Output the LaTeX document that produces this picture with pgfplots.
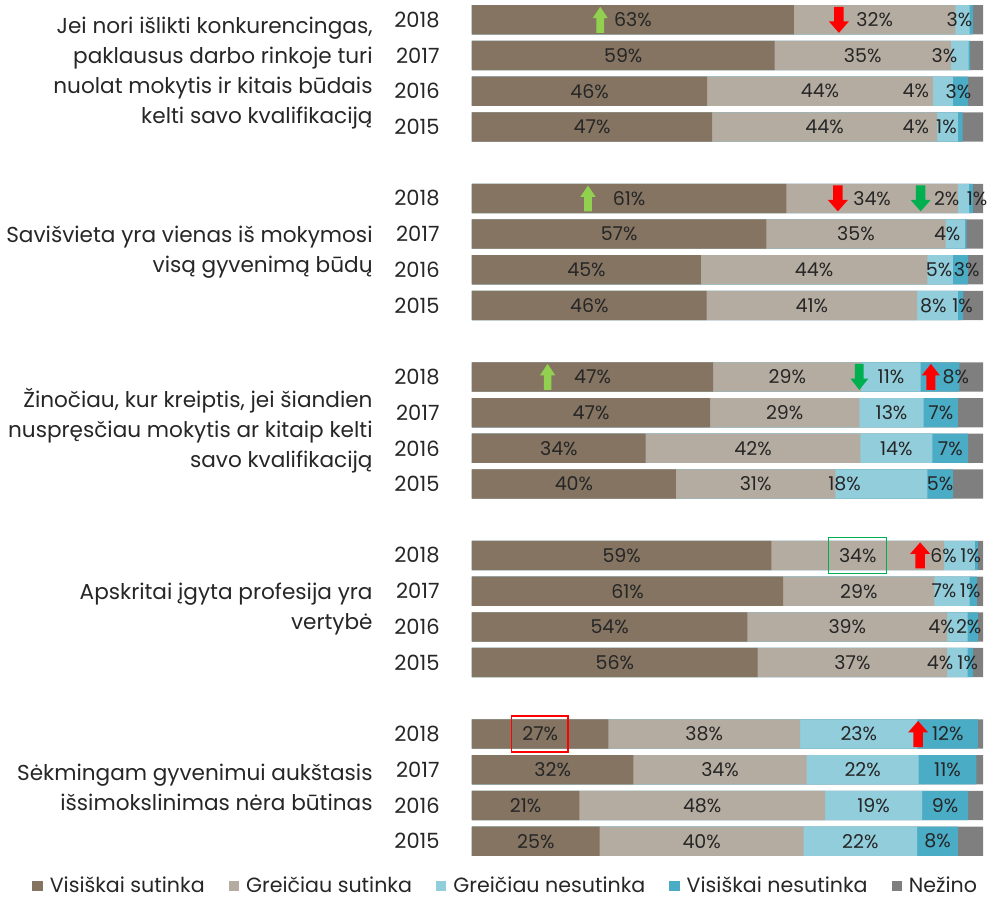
\documentclass[border=0pt]{standalone}
\usepackage{fontspec}
\setmainfont{Poppins}
\usepackage{pgfplots}
\usepackage{pgfplotstable}
\pgfplotsset{compat=1.18}

\definecolor{cA}{RGB}{132,116,97}
\definecolor{cB}{RGB}{181,172,161}
\definecolor{cC}{RGB}{146,205,220}
\definecolor{cD}{RGB}{75,172,198}
\definecolor{cE}{RGB}{127,127,127}
\definecolor{txt}{RGB}{38,38,38}
\definecolor{lgreen}{RGB}{146,208,80}
\definecolor{dgreen}{RGB}{0,176,80}
\definecolor{ared}{RGB}{255,0,0}

% a..e: shares; la..ld: printed labels (0 = none); oc, od: label nudges
\pgfplotstableread{
y a b c d e la lb lc ld oc od
0 63.0 31.6 2.8 0.6 2.0 63 32 3 0 -0.6 0
1 59.2 34.5 3.5 0.3 2.5 59 35 3 0 -3.0 0
2 46.0 44.2 3.9 3.0 2.9 46 44 4 3 -5.3 -0.4
3 47.0 44.0 4.1 0.9 4.0 47 44 4 1 -6.2 -2.7
5 61.5 33.6 2.2 0.7 2.0 61 34 2 1 -3.3 1.2
6 57.6 35.1 3.8 0.3 3.2 57 35 4 0 -1.6 0
7 44.8 44.3 5.0 3.0 2.9 45 44 5 3 -0.2 1.2
8 45.9 41.2 8.0 1.0 3.9 46 41 8 1 -0.8 0.4
10 47.2 29.0 11.6 7.6 4.6 47 29 11 8 0 3.1
11 46.6 29.2 12.6 6.7 4.9 47 29 13 7 0 0
12 34.0 42.0 14.1 7.0 2.9 34 42 14 7 0 0
13 39.9 31.2 18.0 5.0 5.9 40 31 18 5 -7.2 0
15 58.6 33.8 6.0 0.6 1.0 59 34 6 1 -3.1 -1.1
16 60.9 29.6 6.9 1.4 1.2 61 29 7 1 -1.6 -0.6
17 53.9 39.1 4.0 2.0 1.0 54 39 4 2 -3.1 -0.8
18 55.9 37.1 4.0 1.0 2.0 56 37 4 1 -3.4 -0.5
20 26.7 37.5 23.0 11.8 1.0 27 38 23 12 0 0
21 31.6 33.9 21.9 11.3 1.3 32 34 22 11 0 0
22 21.0 48.1 19.0 9.0 2.9 21 48 19 9 0 0
23 25.0 39.9 22.2 8.0 4.9 25 40 22 8 0 0
}\data

\pgfplotsset{
  seg/.style={xbar, bar shift=0pt, draw=none, fill=#1, forget plot},
  lab/.style={
    draw=none, mark=none, forget plot,
    nodes near coords={\ifnum\pgfplotspointmeta=0 \else\pgfplotspointmeta\%\fi},
    point meta=explicit symbolic,
    every node near coord/.append style={anchor=center, inner sep=0pt,
      font=\fontsize{9.5}{10}\selectfont, text=txt},
  },
}
\tikzset{
  grp/.style={anchor=east, align=right, xshift=-49.5pt, inner sep=0pt, text=txt,
    font=\fontsize{10.8}{15}\selectfont},
}

\newcommand{\arrUp}[4]{\fill[#1, shift={(#2)}] (-#4,-6.5pt) -- (-#4,0.8pt) -- (-#3,0.8pt) -- (0,6.5pt) -- (#3,0.8pt) -- (#4,0.8pt) -- (#4,-6.5pt) -- cycle;}
\newcommand{\arrDown}[4]{\fill[#1, shift={(#2)}] (-#4,6.5pt) -- (-#4,-0.8pt) -- (-#3,-0.8pt) -- (0,-6.5pt) -- (#3,-0.8pt) -- (#4,-0.8pt) -- (#4,6.5pt) -- cycle;}

\begin{document}
\begin{tikzpicture}
\useasboundingbox (0,0) rectangle (498.5pt,448.5pt);
\begin{axis}[
  at={(236pt,19pt)}, anchor=south west,
  width=255.5pt, height=428.5pt, scale only axis,
  bar width=0.82,
  xmin=0, xmax=100, ymin=-0.5, ymax=23.5, y dir=reverse,
  axis line style={draw=none},
  xtick=\empty,
  ytick={0,1,2,3,5,6,7,8,10,11,12,13,15,16,17,18,20,21,22,23},
  yticklabels={2018,2017,2016,2015,2018,2017,2016,2015,2018,2017,2016,2015,2018,2017,2016,2015,2018,2017,2016,2015},
  major tick length=0pt,
  yticklabel style={font=\fontsize{10.5}{12}\selectfont, text=txt, anchor=east, inner sep=0pt, xshift=-16pt},
  clip=false,
  legend columns=5,
  legend image code/.code={\fill[#1] (0pt,-2.6pt) rectangle (5.2pt,2.6pt);},
  legend style={at={(axis description cs:0,0)}, anchor=west, xshift=-220pt, yshift=-13.5pt,
    draw=none, fill=none, inner sep=0pt, font=\fontsize{10.3}{12}\selectfont, text=txt,
    /tikz/every odd column/.append style={column sep=1.5pt},
    /tikz/every even column/.append style={column sep=10pt}},
]
\addlegendimage{fill=cA, draw=none}\addlegendentry{Visiškai sutinka}
\addlegendimage{fill=cB, draw=none}\addlegendentry{Greičiau sutinka}
\addlegendimage{fill=cC, draw=none}\addlegendentry{Greičiau nesutinka}
\addlegendimage{fill=cD, draw=none}\addlegendentry{Visiškai nesutinka}
\addlegendimage{fill=cE, draw=none}\addlegendentry{Nežino}

% bars: cumulative overlay, drawn from the longest to the shortest
\addplot[seg=cE] table[x expr=\thisrow{a}+\thisrow{b}+\thisrow{c}+\thisrow{d}+\thisrow{e}, y=y] {\data};
\addplot[seg=cD] table[x expr=\thisrow{a}+\thisrow{b}+\thisrow{c}+\thisrow{d}, y=y] {\data};
\addplot[seg=cC] table[x expr=\thisrow{a}+\thisrow{b}+\thisrow{c}, y=y] {\data};
\addplot[seg=cB] table[x expr=\thisrow{a}+\thisrow{b}, y=y] {\data};
\addplot[seg=cA] table[x=a, y=y] {\data};

% labels centred in each segment (with small nudges where the reference moves them)
\addplot[lab] table[x expr=\thisrow{a}/2, y=y, meta=la] {\data};
\addplot[lab] table[x expr=\thisrow{a}+\thisrow{b}/2, y=y, meta=lb] {\data};
\addplot[lab] table[x expr=\thisrow{a}+\thisrow{b}+\thisrow{c}/2+\thisrow{oc}, y=y, meta=lc] {\data};
\addplot[lab] table[x expr=\thisrow{a}+\thisrow{b}+\thisrow{c}+\thisrow{d}/2+\thisrow{od}, y=y, meta=ld] {\data};

\node[grp] at (axis cs:0,1.5) {Jei nori išlikti konkurencingas,\\paklausus darbo rinkoje turi\\nuolat mokytis ir kitais būdais\\kelti savo kvalifikaciją};
\node[grp] at (axis cs:0,6.5) {Savišvieta yra vienas iš mokymosi\\visą gyvenimą būdų};
\node[grp] at (axis cs:0,11.5) {Žinočiau, kur kreiptis, jei šiandien\\nuspręsčiau mokytis ar kitaip kelti\\savo kvalifikaciją};
\node[grp] at (axis cs:0,16.5) {Apskritai įgyta profesija yra\\vertybė};
\node[grp] at (axis cs:0,21.5) {Sėkmingam gyvenimui aukštasis\\išsimokslinimas nėra būtinas};

\draw[dgreen, line width=0.7pt] (axis cs:69.8,14.5) rectangle (axis cs:81.1,15.5);
\draw[ared, line width=0.7pt] (axis cs:7.7,19.5) rectangle (axis cs:18.8,20.5);

\coordinate (g1a) at (axis cs:25.1,0);
\coordinate (g1b) at (axis cs:71.8,0);
\coordinate (g2a) at (axis cs:22.7,5);
\coordinate (g2b) at (axis cs:71.6,5);
\coordinate (g2c) at (axis cs:87.8,5);
\coordinate (g3a) at (axis cs:14.8,10);
\coordinate (g3b) at (axis cs:75.8,10);
\coordinate (g3c) at (axis cs:89.8,10);
\coordinate (g4a) at (axis cs:87.7,15);
\coordinate (g5a) at (axis cs:87.3,20);
\end{axis}
\arrUp{lgreen}{g1a}{3.8pt}{1.9pt}
\arrDown{ared}{g1b}{5pt}{2.4pt}
\arrUp{lgreen}{g2a}{3.8pt}{1.9pt}
\arrDown{ared}{g2b}{5pt}{2.4pt}
\arrDown{dgreen}{g2c}{5pt}{2.4pt}
\arrUp{lgreen}{g3a}{3.8pt}{1.9pt}
\arrDown{dgreen}{g3b}{4.5pt}{2.2pt}
\arrUp{ared}{g3c}{4.5pt}{2.2pt}
\arrUp{ared}{g4a}{5pt}{2.4pt}
\arrUp{ared}{g5a}{5pt}{2.4pt}
\end{tikzpicture}
\end{document}
